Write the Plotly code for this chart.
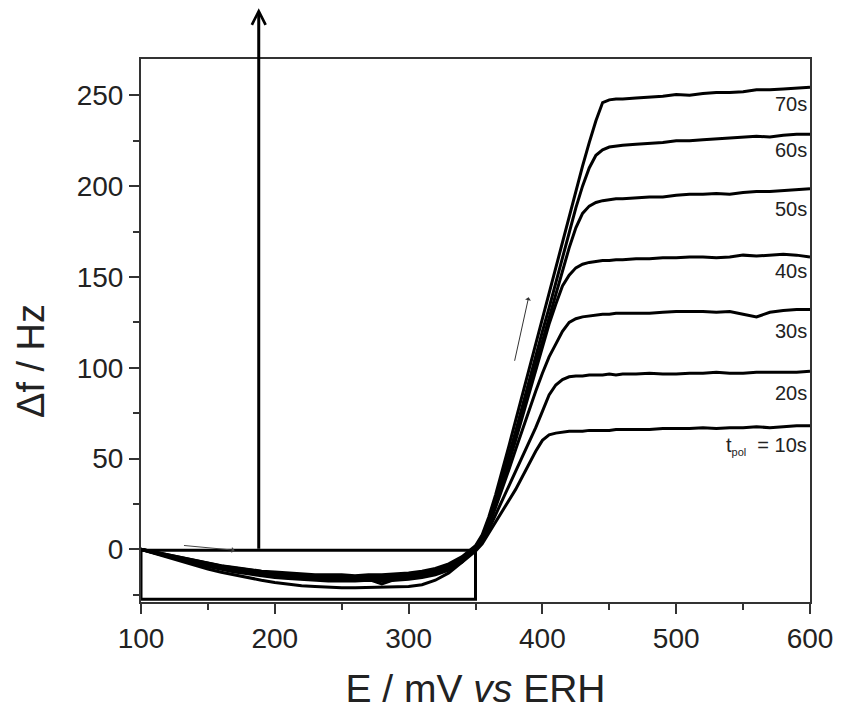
import plotly.graph_objects as go

# Potential grid (mV)
E = [100,110,120,130,140,150,160,170,180,190,200,210,220,230,240,250,260,270,280,290,300,310,320,330,340,
     345,350,355,360,365,370,375,380,385,390,395,400,405,410,415,420,425,430,435,440,445,450,455,460,
     470,480,490,500,510,520,530,540,550,560,570,580,590,600]

df_70 = [0,-1.5,-3,-4.5,-6,-7.5,-9,-10,-11,-12,-12.5,-13,-13.5,-14,-14,-14,-14.5,-14,-14,-13.5,-13,-12,-10.5,-8,-4,
         -1,2,8,18,30,43,57,71,85,99,113,127,141,155,170,184,198,211,224,236,246,247.5,248,248,
         248.5,249,249.5,250.5,250,251,251.5,251.5,252,253,253,253.5,254,254.5]
df_60 = [0,-1.5,-3.2,-4.8,-6.3,-7.8,-9.2,-10.3,-11.3,-12.2,-13,-13.5,-14,-14.5,-14.5,-15,-15,-14.5,-15,-14.5,-14,-13,-11,-8.5,-4.5,
         -1.5,1.5,7,16,27,39,52,65,79,93,106,120,133,147,161,175,188,200,210,217,220,221.5,222,222.5,
         223,223.5,224,225,225,225.5,226,226.5,227,227.5,227,228,228.5,228.5]
df_50 = [0,-1.8,-3.5,-5,-6.5,-8,-9.5,-10.8,-11.8,-12.8,-13.5,-14,-14.5,-15,-15.5,-15.5,-15.5,-15,-16,-15,-14.5,-13.5,-12,-9,-5,
         -2,1,6,15,26,38,50,63,76,89,102,115,128,141,154,166,177,185,189,191,192,192.5,193,193,
         193.5,194,194,195,195.5,195.5,196,195.5,196.5,197,197,197.5,198,198.5]
df_40 = [0,-1.8,-3.6,-5.3,-7,-8.5,-10,-11.3,-12.5,-13.5,-14.2,-15,-15.5,-16,-16,-16.5,-16,-16,-17,-16,-15.5,-14.5,-12.5,-10,-5.5,
         -2.5,0.5,5.5,14,25,36,48,60,73,86,99,112,124,135,145,151,155,157,158,158.5,159,159,159.5,159.5,
         160,160,160.5,160.5,161,161,160.5,161,162,161.5,162,162.5,162,161]
df_30 = [0,-2,-3.8,-5.5,-7.2,-9,-10.5,-12,-13,-14,-15,-15.5,-16,-16.5,-17,-17,-17,-16.5,-19,-16.5,-16,-15,-13,-10.5,-6,
         -3,0,5,13,23,33,44,55,66,77,87,97,106,113,120,125,127,128,128.5,129,129.5,129.5,130,130,
         130,130,130.5,131,131,131,130.5,131,129.5,128,130.5,131.5,132,132]
df_20 = [0,-2,-4,-6,-7.8,-9.5,-11,-12.5,-13.5,-14.5,-15.5,-16,-16.5,-17,-17.5,-17.5,-17.5,-17,-17.5,-17,-16.5,-15.5,-14,-11.5,-7,
         -3.5,-0.5,4,11,19,27,35,43,51,59,67,76,85,90.5,93.5,95,95.5,95.5,96,96,96,96.5,96,96.5,
         96.5,97,96.5,96.5,97,97,97.5,97,97,97.5,97.5,97.5,97.5,98]
df_10 = [0,-2.2,-4.5,-6.7,-8.8,-10.8,-12.6,-14.2,-15.6,-17,-18.2,-19.2,-20,-20.5,-21,-21.2,-21.2,-21,-21,-21,-20.5,-19.5,-17,-13,-7,
         -4,-1,3,9,15,21,27,33,40,47,54,60,63,64,64.5,65,65,65,65.5,65.5,65.5,65.5,66,66,
         66,66,66.5,66.5,66.5,67,66.5,67,67,67.5,67,67.5,68,68]

series = [df_70, df_60, df_50, df_40, df_30, df_20, df_10]
labels = ["70s", "60s", "50s", "40s", "30s", "20s",
          "t<sub><span style='font-size:11px'>pol</span></sub>  = 10s"]
label_y = [245, 220, 187.5, 153.5, 120.5, 86.2, 57]

x_ticks = [100, 200, 300, 400, 500, 600]
y_ticks = [0, 50, 100, 150, 200, 250]

FONT = "Liberation Sans, Arial, sans-serif"
W, H = 841, 713
ML, MR, MT, MB = 141, 31, 59, 111

fig = go.Figure()
for s in series:
    fig.add_trace(go.Scatter(x=E, y=s, mode="lines",
                             line=dict(color="black", width=3), showlegend=False))

for lab, ly in zip(labels, label_y):
    fig.add_annotation(x=600, y=ly, text=lab, showarrow=False, xanchor="right", yanchor="middle",
                       xshift=-1, font=dict(family=FONT, size=20, color="#222"))

# rectangle around the dip region
fig.add_shape(type="rect", x0=100, x1=350, y0=-27.5, y1=-0.5,
              line=dict(color="black", width=3))

# large vertical arrow
fig.add_annotation(x=188, y=298, ax=188, ay=-0.5, axref="x", ayref="y", xref="x", yref="y",
                   showarrow=True, arrowhead=5, arrowsize=0.9, arrowwidth=3, arrowcolor="black", text="")
# small scan-direction arrows
fig.add_annotation(x=170, y=-0.5, ax=131, ay=2.2, axref="x", ayref="y", xref="x", yref="y",
                   showarrow=True, arrowhead=1, arrowsize=1, arrowwidth=1, arrowcolor="#444", text="")
fig.add_annotation(x=389.7, y=138.8, ax=379, ay=103, axref="x", ayref="y", xref="x", yref="y",
                   showarrow=True, arrowhead=1, arrowsize=1, arrowwidth=1, arrowcolor="#333", text="")

# y-axis title (placed as in the reference)
fig.add_annotation(x=(31 - ML) / (W - ML - MR), y=(H - MB - 361) / (H - MT - MB),
                   xref="paper", yref="paper", xanchor="center", yanchor="middle",
                   text="Δf / Hz", showarrow=False, textangle=-90,
                   font=dict(family=FONT, size=38, color="#222"))

fig.update_layout(
    width=W, height=H,
    margin=dict(l=ML, r=MR, t=MT, b=MB),
    plot_bgcolor="white", paper_bgcolor="white",
    font=dict(family=FONT, color="#222"),
)

fig.update_xaxes(range=[100, 600], tickvals=x_ticks, ticks="outside", ticklen=10, tickwidth=1.5,
                 tickcolor="#333", showline=True, linewidth=2, linecolor="#333", mirror=True,
                 showgrid=False, zeroline=False, tickfont=dict(size=28), automargin=False,
                 minor=dict(dtick=50, tick0=100, ticks="outside", ticklen=6, tickwidth=1.5, tickcolor="#333"),
                 title=dict(text="E / mV <i>vs</i> ERH", font=dict(size=39), standoff=22))
fig.update_yaxes(range=[-29, 270], tickvals=y_ticks, ticks="outside", ticklen=10, tickwidth=1.5,
                 tickcolor="#333", showline=True, linewidth=2, linecolor="#333", mirror=True,
                 showgrid=False, zeroline=False, tickfont=dict(size=28), automargin=False,
                 minor=dict(dtick=25, tick0=0, ticks="outside", ticklen=6, tickwidth=1.5, tickcolor="#333"))

fig.write_html("out.html")
